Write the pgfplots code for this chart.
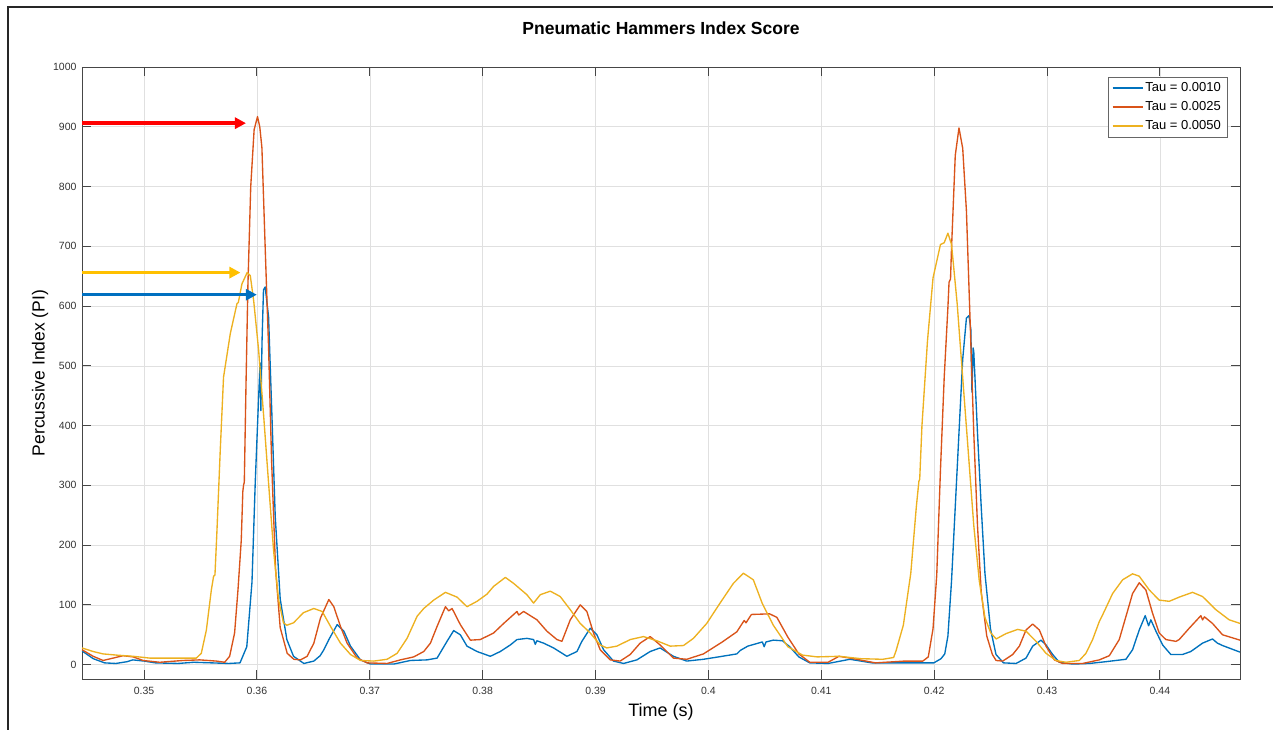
\documentclass[border=0pt]{standalone}
\usepackage{fontspec}
\setmainfont{Liberation Sans}
\usepackage{pgfplots}
\pgfplotsset{compat=1.18}
\usetikzlibrary{arrows.meta}
\definecolor{mblue}{rgb}{0,0.447,0.741}
\definecolor{morange}{rgb}{0.85,0.325,0.098}
\definecolor{myellow}{rgb}{0.929,0.694,0.125}
\definecolor{arrred}{RGB}{255,0,0}
\definecolor{arryel}{RGB}{255,192,0}
\definecolor{arrblue}{RGB}{0,112,192}
\definecolor{axgray}{RGB}{70,70,70}
\begin{document}
\begin{tikzpicture}
\useasboundingbox (-82pt,-50pt) rectangle (1191pt,679pt);
\draw[line width=1.5pt, black!85] (-74pt,-55pt) -- (-74pt,672pt) -- (1195pt,672pt);
\begin{axis}[
  at={(0,0)}, anchor=south west,
  scale only axis, width=1158pt, height=612pt,
  xmin=0.3445, xmax=0.4471, ymin=-24, ymax=1000,
  xtick={0.35,0.36,0.37,0.38,0.39,0.40,0.41,0.42,0.43,0.44},
  xticklabels={0.35,0.36,0.37,0.38,0.39,0.4,0.41,0.42,0.43,0.44},
  ytick={0,100,200,300,400,500,600,700,800,900,1000},
  yticklabels={0,100,200,300,400,500,600,700,800,900,1000},
  tick align=inside, major tick length=9pt, tick pos=both,
  grid=major, major grid style={color=black!12, line width=0.6pt},
  axis line style={axgray, line width=0.9pt},
  tick style={axgray, line width=0.9pt},
  tick label style={font=\fontsize{10.5}{12}\selectfont, color=black!80},
  xticklabel style={yshift=-5pt},
  yticklabel style={xshift=-2pt},
  xlabel={Time (s)},
  xlabel style={font=\fontsize{18}{21}\selectfont, at={(axis description cs:0.5,0)}, anchor=center, yshift=-33pt},
  ylabel={Percussive Index (PI)},
  ylabel style={font=\fontsize{17.5}{21}\selectfont, at={(axis description cs:0,0.5)}, anchor=center, yshift=42pt},
  title={Pneumatic Hammers Index Score},
  title style={font=\bfseries\fontsize{17.5}{21}\selectfont, at={(axis description cs:0.5,1)}, anchor=center, yshift=33pt},
  legend style={at={(rel axis cs:0.9888,0.9837)}, anchor=north east, font=\fontsize{13}{15}\selectfont, draw=black!60, inner xsep=4pt, inner ysep=3.5pt, row sep=4.5pt},
  legend cell align=left,
  legend image code/.code={\draw[#1, line width=1.5pt] (0pt,0pt) -- (30pt,0pt);},
  every axis plot/.append style={line width=1.35pt, line join=round},
]
\addplot[mblue] coordinates {
(0.3445,23)(0.3455,10)(0.3465,3)(0.3475,2)(0.3485,5)(0.3490,8)(0.3500,6)(0.3510,3)(0.3530,2)(0.3544,4)(0.3560,3)(0.3575,2)(0.3585,3)
(0.3591,30)(0.35956,138)(0.35985,305)(0.36014,443)(0.36028,505)(0.36035,425)(0.36045,540)(0.36058,627)(0.36073,632)(0.36103,582)
(0.36133,415)(0.36162,248)(0.36206,110)(0.36265,42)(0.36324,14)(0.36416,2)(0.36504,6)(0.3656,15)(0.36593,25)(0.36637,42)(0.36711,67)
(0.3677,56)(0.36829,31)(0.36917,8)(0.37006,1)(0.37212,1)(0.3736,7)(0.37507,8)(0.37596,11)(0.3764,25)(0.37684,39)(0.37743,57)(0.37802,50)
(0.37861,31)(0.3795,22)(0.38068,14)(0.38156,22)(0.38245,33)(0.38304,42)(0.38392,44)(0.38451,42)(0.38466,34)(0.3848,40)(0.3854,36)
(0.38628,28)(0.38746,14)(0.38835,22)(0.38879,39)(0.38953,61)(0.39012,50)(0.39071,25)(0.39159,6)(0.39248,2)(0.39366,8)(0.39484,22)
(0.39572,28)(0.3969,14)(0.39808,6)(0.39956,9)(0.4009,13)(0.40252,18)(0.40284,24)(0.40349,31)(0.40478,38)(0.40494,30)(0.4051,38)
(0.40575,41)(0.40656,40)(0.4072,30)(0.40801,13)(0.40898,3)(0.4106,2)(0.41254,9)(0.41448,3)(0.41706,3)(0.41997,3)(0.42061,10)
(0.42094,18)(0.42122,48)(0.42154,140)(0.42187,264)(0.4222,388)(0.42253,511)(0.42286,580)(0.42309,584)(0.42325,561)(0.42335,456)
(0.42345,530)(0.42351,524)(0.42384,388)(0.42417,264)(0.4245,153)(0.42499,60)(0.42548,17)(0.42614,3)(0.42726,2)(0.42814,11)
(0.42873,31)(0.42947,41)(0.42991,33)(0.4305,17)(0.43109,4)(0.43227,1)(0.43375,2)(0.43522,5)(0.43699,9)(0.43758,25)(0.43817,58)
(0.4387,82)(0.439,65)(0.4392,75)(0.43965,56)(0.44024,33)(0.44097,17)(0.442,17)(0.44274,22)(0.44378,36)(0.44466,43)(0.4451,36)
(0.44555,32)(0.44710,21)
};
\addlegendentry{Tau = 0.0010}
\addplot[morange] coordinates {
(0.3445,25)(0.34549,14)(0.34637,7)(0.34726,11)(0.34814,15)(0.34903,13)(0.34991,7)(0.35139,4)(0.35345,7)(0.35493,8)(0.3564,6)
(0.35714,4)(0.35758,14)(0.35802,53)(0.35832,125)(0.35861,208)(0.35875,290)(0.35882,301)(0.35888,305)(0.35903,468)(0.3592,635)
(0.35945,800)(0.35975,895)(0.36005,917)(0.36025,900)(0.36044,865)(0.36073,698)(0.36103,531)(0.3613,340)(0.36165,160)(0.36206,62)
(0.36268,19)(0.36327,9)(0.36386,8)(0.36445,14)(0.36504,36)(0.36563,78)(0.36637,109)(0.36681,97)(0.3674,64)(0.36799,36)(0.36888,11)
(0.36976,3)(0.37153,2)(0.37271,8)(0.37389,13)(0.37478,22)(0.37537,36)(0.37596,64)(0.3767,97)(0.37699,90)(0.37729,94)(0.37802,67)
(0.37891,41)(0.37979,42)(0.38097,53)(0.38186,69)(0.38304,89)(0.38319,83)(0.38363,89)(0.38481,75)(0.38569,56)(0.38658,42)(0.38702,39)
(0.38776,75)(0.38864,100)(0.38923,89)(0.38982,53)(0.39041,25)(0.3913,8)(0.39218,6)(0.39307,17)(0.39395,36)(0.39484,47)(0.39572,33)
(0.3969,11)(0.39808,9)(0.39956,18)(0.40123,38)(0.40252,55)(0.40317,74)(0.40333,70)(0.40381,84)(0.40543,85)(0.40607,79)(0.40704,46)
(0.40801,18)(0.40898,4)(0.4106,4)(0.41157,14)(0.41286,10)(0.4148,3)(0.41738,6)(0.419,6)(0.41948,13)(0.41990,60)(0.42023,150)
(0.42056,326)(0.42089,480)(0.42122,598)(0.42132,640)(0.42145,645)(0.42154,697)(0.42187,852)(0.4222,898)(0.42253,864)(0.42286,759)
(0.42319,573)(0.42351,388)(0.42384,233)(0.42417,122)(0.42466,48)(0.42516,17)(0.42549,7)(0.42608,6)(0.42696,17)(0.42755,31)
(0.42814,58)(0.42873,68)(0.42932,58)(0.42991,31)(0.43065,8)(0.43139,2)(0.43316,2)(0.43463,8)(0.43552,15)(0.4364,42)(0.43729,100)
(0.43758,119)(0.43817,137)(0.43876,125)(0.43935,86)(0.43994,53)(0.44053,42)(0.44142,39)(0.44171,42)(0.4426,61)(0.44363,82)
(0.44378,75)(0.44395,80)(0.44466,69)(0.44555,50)(0.44710,41)
};
\addlegendentry{Tau = 0.0025}
\addplot[myellow] coordinates {
(0.3445,28)(0.34549,22)(0.34637,18)(0.34755,16)(0.34903,14)(0.3505,11)(0.35286,11)(0.35463,11)(0.35507,19)(0.35552,58)(0.35596,125)
(0.35616,148)(0.35628,150)(0.35645,221)(0.35675,359)(0.35704,481)(0.35764,554)(0.35823,604)(0.35835,606)(0.35867,637)(0.35913,656)
(0.35941,651)(0.35971,609)(0.36015,526)(0.3606,415)(0.36103,304)(0.36147,192)(0.36191,109)(0.36235,70)(0.36265,66)(0.36324,70)
(0.36412,87)(0.36504,94)(0.36578,89)(0.36652,64)(0.3674,36)(0.36829,17)(0.36917,7)(0.37035,6)(0.37153,9)(0.37242,19)(0.3733,44)
(0.37419,81)(0.37478,94)(0.37566,108)(0.3767,121)(0.37773,113)(0.37861,97)(0.3795,106)(0.38038,118)(0.38097,131)(0.38201,146)
(0.38274,136)(0.38392,117)(0.38451,103)(0.3851,117)(0.38599,123)(0.38687,114)(0.38776,92)(0.38864,69)(0.38953,53)(0.39041,33)
(0.391,28)(0.39189,31)(0.39307,42)(0.39425,47)(0.39543,40)(0.39661,31)(0.39779,32)(0.39867,44)(0.39985,69)(0.40103,103)(0.40221,136)
(0.4031,153)(0.40398,142)(0.40478,102)(0.40575,66)(0.40704,30)(0.40834,16)(0.40963,13)(0.41157,14)(0.41351,10)(0.41544,9)(0.41641,12)
(0.41662,23)(0.41727,66)(0.41793,153)(0.41842,264)(0.41865,307)(0.41872,310)(0.41892,400)(0.41941,542)(0.4199,647)(0.42056,703)
(0.42089,706)(0.42122,722)(0.42154,703)(0.42204,604)(0.42253,480)(0.42302,357)(0.42351,233)(0.424,140)(0.4245,79)(0.42499,54)
(0.42549,43)(0.42637,52)(0.4274,59)(0.42814,56)(0.42903,39)(0.42991,19)(0.4308,7)(0.43168,4)(0.43286,7)(0.43345,19)(0.43404,42)
(0.43463,72)(0.43507,89)(0.43581,119)(0.4367,142)(0.43758,152)(0.43817,148)(0.43906,125)(0.43994,108)(0.44083,106)(0.44171,113)
(0.44289,121)(0.44378,114)(0.44496,92)(0.44614,75)(0.44710,69)
};
\addlegendentry{Tau = 0.0050}
\draw[arrred, line width=3.5pt, -{Triangle[length=11pt,width=11pt]}] (axis cs:0.3445,906) -- (axis cs:0.35903,906);
\draw[arryel, line width=3.5pt, -{Triangle[length=11pt,width=11pt]}] (axis cs:0.3445,656) -- (axis cs:0.35854,656);
\draw[arrblue, line width=3.5pt, -{Triangle[length=11pt,width=11pt]}] (axis cs:0.3445,619) -- (axis cs:0.35999,619);
\end{axis}
\end{tikzpicture}
\end{document}
